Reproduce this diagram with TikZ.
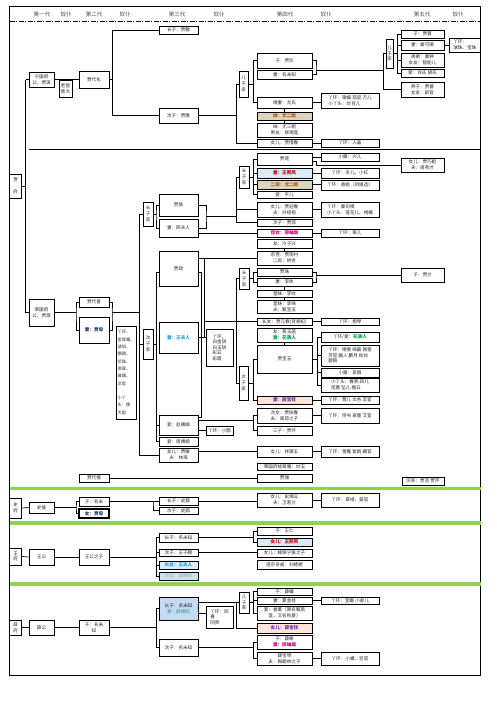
\documentclass[tikz,border=0pt]{standalone}
\usepackage{fontspec}
\setmainfont{Noto Sans CJK SC}
\XeTeXlinebreaklocale "zh"
\XeTeXlinebreakskip=0pt plus 1pt
\definecolor{gbar}{HTML}{92D050}
\definecolor{tanf}{HTML}{DDD4BE}
\definecolor{tant}{HTML}{B05A10}
\definecolor{bluef}{HTML}{DCEAF5}
\definecolor{blue2f}{HTML}{C5D9F1}
\definecolor{blue3f}{HTML}{CFE3EC}
\definecolor{redt}{HTML}{C00000}
\definecolor{cyant}{HTML}{1BA1E2}
\definecolor{greent}{HTML}{00A650}
\definecolor{peachf}{HTML}{FCE4D6}
\definecolor{purt}{HTML}{7030A0}
\definecolor{magt}{HTML}{E6007E}
\definecolor{navyt}{HTML}{1F3864}
\definecolor{tealt}{HTML}{2E9E8F}
\definecolor{palet}{HTML}{8FB0C2}
\newcommand\bxfont{\fontsize{4.6}{5.6}\selectfont}
\newcommand\vtfont{\fontsize{4.5}{5.8}\selectfont}
\newcommand\smfont{\fontsize{4.2}{7.3}\selectfont}
\newcommand\hdfont{\fontsize{5.5}{6}\selectfont}
\newcommand\mybox[7][]{%
  \pgfmathsetmacro\bX{(#3+#5)/2}%
  \pgfmathsetmacro\bY{(#4+#6)/2}%
  \pgfmathsetmacro\bW{#5-#3}%
  \pgfmathsetmacro\bH{#6-#4}%
  \node[bx,minimum width=\bW pt,minimum height=\bH pt,#1] (#2) at (\bX,\bY) {#7};}
\tikzset{
  bx/.style={draw=black,line width=0.75pt,fill=white,inner sep=0pt,align=center,font=\bxfont,text=black!85},
  vt/.style={font=\vtfont},
  hd/.style={font=\hdfont,text=black!70,inner sep=0pt},
  listbox/.style={align=left},
  tanbox/.style={fill=tanf,text=tant,font=\bxfont\bfseries},
  navybold/.style={text=navyt,font=\bxfont\bfseries},
  cyanbold/.style={text=cyant,font=\bxfont\bfseries},
  magbold/.style={text=magt,font=\bxfont\bfseries},
  redbold/.style={text=redt,font=\bxfont\bfseries},
  peachbox/.style={fill=peachf,text=purt,font=\bxfont\bfseries},
  bluebox/.style={fill=bluef},
  thinln/.style={line width=0.4pt}
}
\begin{document}
\begin{tikzpicture}[x=1pt,y=-1pt,line width=0.7pt]
\useasboundingbox (0,0) rectangle (496,702);
\fill[white] (0,0) rectangle (496,702);
% frame and header
\draw[line width=0.9pt] (9.5,6) rectangle (480.5,675);
\node[hd] (h1) at (42,14) {第一代};
\node[hd] (h2) at (66,14) {奴仆};
\node[hd] (h3) at (94,14) {第二代};
\node[hd] (h4) at (125,14) {奴仆};
\node[hd] (h5) at (177,14) {第三代};
\node[hd] (h6) at (219,14) {奴仆};
\node[hd] (h7) at (285,14) {第四代};
\node[hd] (h8) at (326,14) {奴仆};
\node[hd] (h9) at (422,14) {第五代};
\node[hd] (h10) at (458,14) {奴仆};
\draw[line width=0.8pt,dash pattern=on 5pt off 1.5pt on 1pt off 1.5pt] (9.5,21) -- (480.5,21);
% green bars
\fill[gbar] (9.5,486.5) rectangle (480.5,490);
\fill[gbar] (9.5,521) rectangle (480.5,524.5);
\fill[gbar] (9.5,582) rectangle (480.5,585.5);
\draw[line width=1.6pt] (29,149.5) -- (480.5,149.5);

% ================= Ningguo =================
\mybox[vt]{jiafu}{9.5}{174}{21.7}{198}{贾\\[6pt]府}
\mybox{ngf}{29}{72}{54}{87}{宁国府\\公，贾演}
\mybox{dh}{79}{71}{109}{88}{贾代化}
\mybox{lgj}{59}{80}{72}{97}{老管\\焦大}
\mybox{jfu}{159}{26}{198}{34}{长子：贾敷}
\mybox{jjing}{159}{108}{198}{123}{次子：贾敬}
\mybox[vt]{nza}{239}{71}{248}{97}{儿\\子\\家}
\mybox{jzhen}{257}{53}{312}{68}{子：贾珍}
\mybox{jzq}{257}{70}{312}{79}{妻：名未知}
\mybox{ysh}{257}{97}{312}{108}{继妻：尤氏}
\mybox[listbox]{ysyh}{321}{93}{379}{108}{丫环：银蝶 茄官 万儿\\小丫头：炒豆儿}
\mybox[tanbox]{yej}{257}{112}{312}{120}{妹：尤二姐}
\mybox{ysj}{257}{123}{312}{137}{妹：尤三姐\\男友：柳湘莲}
\mybox{xchun}{257}{139}{312}{147}{女儿：贾惜春}
\mybox{ruhua}{321}{139}{379}{147}{丫环：入画}
\mybox[vt]{nzb}{386}{39}{393}{68}{儿\\子\\家}
\mybox{jrong}{401}{30}{444}{38}{子：贾蓉}
\mybox{qkq}{401}{40}{444}{50}{妻：秦可卿}
\mybox{qzh}{401}{53}{444}{67}{弟弟：秦钟\\女友：智能儿}
\mybox{xush}{401}{69}{444}{77}{妾：许氏 胡氏}
\mybox{jqiang}{401}{82}{444}{97}{养子：贾蔷\\女友：龄官}
\mybox[listbox]{rzh}{449}{38}{480.5}{52}{丫环：\\瑞珠、宝珠}

\coordinate (bL1) at (25.7,79.5);
\coordinate (bL2) at (25.7,312.5);
\draw (bL1) -- (bL2);
\draw (jiafu.east) -- (jiafu.east -| bL1);
\draw (bL1) -- (ngf.west);
\draw (ngf.east) -- (dh.west);
\coordinate (b112t) at (112.3,30);
\coordinate (b112b) at (112.3,115.5);
\draw (dh.east) -- (dh.east -| b112t);
\draw (b112t) -- (b112b);
\draw (b112t) -- (jfu.west);
\draw (b112b) -- (jjing.west);
\coordinate (b236t) at (236,84);
\coordinate (b236b) at (236,143);
\draw (jjing.east) -- (jjing.east -| b236t);
\draw (b236t) -- (b236b);
\draw (b236t) -- (nza.west);
\draw (b236b) -- (xchun.west);
\coordinate (b253t) at (253,60.5);
\coordinate (b253b) at (253,102.5);
\draw (nza.east) -- (nza.east -| b253t);
\draw (b253t) -- (b253b);
\draw (b253t) -- (jzhen.west);
\draw (b253b) -- (ysh.west);
\draw[line width=1.6pt] (jzhen.south west) -- (jzhen.south east);
\coordinate (brk1) at (316,70);
\draw (jzhen.east) -| (brk1) |- (jzq.east);
\coordinate (b383t) at (383,53.5);
\coordinate (b383b) at (383,89.5);
\draw (brk1) -- (brk1 -| b383t);
\draw (b383t) -- (b383b);
\draw (b383t) -- (nzb.west);
\draw (b383b) -- (jqiang.west);
\coordinate (b397t) at (397,34);
\coordinate (b397b) at (397,73);
\draw (nzb.east) -- (nzb.east -| b397t);
\draw (b397t) -- (b397b);
\foreach \n in {jrong,qkq,qzh,xush} \draw (\n.west) -- (\n.west -| b397t);
\draw (qkq.east) -- (rzh.west);
\draw (ysh.east) -- (ysyh.west |- ysh.east);
\draw (xchun.east) -- (ruhua.west);
\draw[thinln] (ysh.south) -- (yej.north);
\draw[thinln] (yej.south) -- (ysj.north);

% ================= Rongguo =================
\mybox{rgf}{29}{299}{54}{326}{荣国府\\公，贾源}
\mybox{dsh}{79}{297}{109}{307}{贾代善}
\mybox[navybold]{jmu}{79}{317}{109}{343}{妻：贾母}
\mybox[listbox,font=\smfont]{jmyh}{116}{326}{136}{419}{丫环、\\金鸳鸯、\\琥珀、\\鹦鹉、\\珍珠、\\翡翠、\\玻璃、\\文官\\\mbox{}\\小丫\\头：傻\\大姐}
\draw (bL2) -- (rgf.west);
\coordinate (b76) at (76,312.5);
\draw (rgf.east) -- (b76);
\draw (dsh.west) -| (b76) |- (jmu.west);
\coordinate (b112r) at (112,312.5);
\draw (dsh.east) -| (b112r) |- (jmu.east);
\coordinate (b139t) at (139,214);
\coordinate (b139b) at (139,455);
\draw (b112r) -- (b112r -| b139t);
\draw (b139t) -- (b139b);

\mybox[vt]{czja}{143}{202}{153}{226}{长\\子\\家}
\mybox{jshe}{159}{194}{198}{216}{贾赦}
\mybox{xfr}{159}{219}{198}{237}{妻：邢夫人}
\draw (b139t) -- (czja.west);
\coordinate (b156a) at (156,214);
\draw (czja.east) -- (b156a);
\draw (jshe.west) -| (b156a) |- (xfr.west);
\coordinate (b206) at (206,216);
\draw (jshe.east) -| (b206) |- (xfr.east);
\coordinate (b236a) at (236,177);
\coordinate (b236c) at (236,222.5);
\draw (b206) -- (b206 -| b236a);
\draw (b236a) -- (b236c);
\mybox[vt]{czjb}{239}{166}{249}{188}{长\\子\\家}
\draw (b236a) -- (czjb.west);
\mybox{jlian}{257}{153}{312}{165}{贾琏}
\mybox[bluebox,redbold]{wxf}{257}{168}{312}{178}{妻：王熙凤}
\mybox[tanbox]{ejj}{257}{180}{312}{189}{二房：尤二姐}
\mybox{pinger}{257}{191}{312}{198}{妾：平儿}
\coordinate (b253c) at (253,159);
\coordinate (b253d) at (253,194.5);
\draw (czjb.east) -- (czjb.east -| b253c);
\draw (b253c) -- (b253d);
\foreach \n in {jlian,wxf,ejj,pinger} \draw (\n.west) -- (\n.west -| b253c);
\mybox{xinger}{321}{153}{379}{161}{小厮：兴儿}
\mybox{feng}{321}{168}{379}{178}{丫环：丰儿、小红}
\mybox{shanj}{321}{180}{379}{190}{丫环：善姐（凤姐选）}
\draw (jlian.east |- xinger.west) -- (xinger.west);
\draw (wxf.east) -- (feng.west);
\draw (ejj.east) -- (shanj.west |- ejj.east);
\mybox{qjie}{401}{158}{444}{172}{女儿：贾巧姐\\夫：周秀才}
\coordinate (b316q) at (316,165);
\draw (qjie.west) -- (b316q) |- ([yshift=-2pt]jlian.east);
\mybox{yingc}{257}{202}{312}{217}{女儿：贾迎春\\夫：孙绍祖}
\mybox[listbox]{siqi}{321}{202}{379}{217}{丫环：秦司棋\\小丫头：莲花儿、绣橘}
\draw (yingc.west) -- (yingc.west -| b236a);
\draw (yingc.east) -- (siqi.west);
\mybox{jcong}{257}{219}{312}{226}{次子：贾琮}
\draw (b236c) -- (jcong.west);
\mybox[magbold]{xyy}{257}{229}{312}{237}{侄女：邢岫烟}
\mybox{zhuaner}{321}{229}{379}{237}{丫环：篆儿}
\draw (xfr.east |- xyy.west) -- (xyy.west);
\draw (xyy.east) -- (zhuaner.west);
\mybox{lzx}{257}{239}{312}{248}{友：冷子兴}
\mybox{jyc}{257}{251}{312}{265}{宗侄：贾雨村\\二房：娇杏}
\draw[thinln] (lzx.south) -- (jyc.north);

\mybox{jzheng}{159}{251}{198}{286}{贾政}
\draw (jzheng.east |- jyc.west) -- (jyc.west);
\coordinate (b204t) at (204,258);
\coordinate (b204b) at (204,337);
\draw (b204t) -- (b204b);
\mybox[cyanbold]{wfr}{159}{322}{198}{353}{妻：王夫人}
\mybox[listbox]{wfryh}{206}{329}{233}{366}{丫环，\\白金钏\\白玉钏\\彩云\\彩霞}
\draw (wfr.east |- b204b) -- (b204b -| wfryh.west);
\mybox{zym}{159}{415}{198}{435}{妾：赵姨娘}
\mybox{xque}{206}{426}{233}{435}{丫环：小鹊}
\mybox{zhym}{159}{437}{198}{446}{妾：周姨娘}
\mybox{jmin}{159}{448}{198}{462}{女儿：贾敏\\夫：林海}
\coordinate (bzl) at (156,441.5);
\coordinate (bzr) at (201,417);
\draw ([yshift=-3.5pt]jzheng.west) -| (bzl);
\draw (bzl) -- (zhym.west);
\draw (zym.west) -- (zym.west -| bzl);
\draw ([yshift=-3.5pt]jzheng.east) -| (bzr) -- (bzr -| zym.east);
\mybox[vt]{czjc}{143}{329}{153}{359}{次\\子\\家}
\draw (czjc.west) -- (czjc.west -| b139t);
\draw (czjc.east) -- (czjc.east -| bzl);
\draw (zym.east |- xque.west) -- (xque.west);
\draw (b139b) -- (jmin.west);

\coordinate (b236d) at (236,278.5);
\coordinate (b236e) at (236,383);
\draw (b236d) -- (b236e);
\mybox[vt]{czjd}{239}{268}{249}{289}{长\\子\\家}
\draw (b236d) -- (czjd.west);
\mybox{jzhu}{257}{268}{312}{276}{贾珠}
\mybox{liwan}{257}{278}{312}{286}{妻：李纨}
\coordinate (b253e) at (253,272);
\coordinate (b253f) at (253,282);
\draw (czjd.east) -- (czjd.east -| b253e);
\draw (b253e) -- (b253f);
\draw (b253e) -- (jzhu.west);
\draw (b253f) -- (liwan.west);
\coordinate (b316l) at (316,275);
\draw (jzhu.east) -| (b316l) |- (liwan.east);
\mybox{jlan}{401}{268}{444}{282}{子：贾兰}
\draw (b316l) -- (jlan.west);
\mybox{liwen}{257}{290}{312}{297}{堂妹：李纹}
\mybox{liqi}{257}{300}{312}{313}{堂妹：李绮\\夫：甄宝玉}
\draw[thinln] (liwan.south) -- (liwen.north);
\draw[thinln] (liwen.south) -- (liqi.north);
\mybox{ychun}{257}{318}{312}{325}{长女：贾元春(贤德妃)}
\mybox{baoqin}{321}{318}{379}{325}{丫环：抱琴}
\draw (ychun.west) -- (ychun.west -| b204t);
\draw (ychun.east) -- (baoqin.west);
\mybox{jyh}{257}{328}{312}{342}{友：蒋玉菡\\\textcolor{greent}{\bfseries 妻：花袭人}}
\mybox{bYu}{257}{345}{312}{373}{贾宝玉}
\draw[thinln] (jyh.south) -- (bYu.north);
\mybox[peachbox]{bchai}{257}{396}{312}{404}{妻：薛宝钗}
\mybox[vt]{czje}{239}{366}{248}{400}{次\\子\\家}
\draw (b236e) -- (czje.west);
\coordinate (b253g) at (253,359);
\coordinate (b253h) at (253,400);
\draw (czje.east) -- (czje.east -| b253g);
\draw (b253g) -- (b253h);
\draw (b253g) -- (bYu.west);
\draw (b253h) -- (bchai.west);
\mybox{xiren}{321}{332}{379}{342}{丫环/妾：\textcolor{greent}{\bfseries 花袭人}}
\mybox[listbox]{qwen}{321}{345}{379}{366}{丫环：晴雯 绮霰 茜雪\\芳官 媚人 麝月 秋纹\\碧痕}
\mybox{mingy}{321}{368}{379}{377}{小厮：茗烟}
\mybox[listbox]{xyt}{321}{378}{379}{392}{小丫头：春燕 四儿\\佳蕙 坠儿 檀云}
\coordinate (b317t) at (317,337);
\coordinate (b317b) at (317,385);
\draw (bYu.east) -- (bYu.east -| b317t);
\draw (b317t) -- (b317b);
\foreach \n in {xiren,qwen,mingy,xyt} \draw (\n.west) -- (\n.west -| b317t);
\mybox{yinger}{321}{396}{379}{404}{丫环：莺儿 文杏 蕊官}
\draw (bchai.east) -- (yinger.west);
\mybox{tanc}{257}{408}{312}{423}{次女：贾探春\\夫：周琼之子}
\mybox{jhuan}{257}{426}{312}{435}{三子：贾环}
\mybox{shishu}{321}{408}{379}{423}{丫环：侍书 翠墨 艾官}
\coordinate (b253i) at (253,415.5);
\coordinate (b253j) at (253,430.5);
\coordinate (b253k) at (253,420);
\draw (b253i) -- (b253j);
\draw (b253i) -- (tanc.west);
\draw (b253j) -- (jhuan.west);
\draw (zym.east |- b253k) -- (b253k);
\draw (tanc.east) -- (shishu.west);
\mybox{ldy}{257}{446}{312}{457}{女儿：林黛玉}
\mybox{ldyyh}{321}{446}{379}{457}{丫环：雪雁 紫鹃 藕官}
\draw (jmin.east |- ldy.west) -- (ldy.west);
\draw (ldy.east) -- (ldyyh.west);
\mybox{miaoyu}{257}{463}{312}{470}{荣国府栊翠庵：妙玉}
\mybox{jdr}{79}{474}{109}{482}{贾代儒}
\mybox{jrui}{257}{474}{312}{482}{贾瑞}
\draw (jdr.east) -- (jrui.west);
\mybox{zqin}{402}{477}{444}{485}{宗亲：贾芸 贾芹}

% ================= Shi =================
\mybox[vt]{shif}{9.5}{498}{21.7}{518}{史\\府}
\mybox{shih}{29}{502}{54}{513}{史侯}
\mybox{zmw}{79}{497}{109}{506}{子：名未}
\mybox[navybold,line width=1.2pt]{njm}{79}{509}{109}{518}{女：贾母}
\draw (shif.east) -- (shih.west);
\coordinate (b76s) at (76,507.5);
\draw (shih.east) -- (b76s);
\draw (zmw.west) -| (b76s) |- (njm.west);
\coordinate (b153s) at (153,501.5);
\draw (zmw.east) -- (b153s);
\mybox{snai}{159}{497}{198}{505}{长子：史鼐}
\mybox{sding}{159}{507}{198}{514}{次子：史鼎}
\draw (snai.west) -| (b153s) |- (sding.west);
\mybox{sxy}{257}{493}{312}{507}{女儿：史湘云\\夫：卫若兰}
\mybox{cuilv}{321}{493}{379}{507}{丫环：翠缕、葵官}
\draw (snai.east) -- (sxy.west |- snai.east);
\draw (sxy.east) -- (cuilv.west);

% ================= Wang =================
\mybox[vt]{wangf}{9.5}{548}{21.7}{565}{王\\府}
\mybox{wgong}{29}{549}{54}{565}{王公}
\mybox{wgz}{79}{549}{109}{565}{王公之子}
\draw (wangf.east) -- (wgong.west);
\draw (wgong.east) -- (wgz.west);
\coordinate (b156w) at (156,557);
\coordinate (b156wt) at (156,537.5);
\coordinate (b156wb) at (156,576);
\draw (wgz.east) -- (b156w);
\draw (b156wt) -- (b156wb);
\mybox{wcz}{159}{533}{198}{542}{长子：名未知}
\mybox{wzt}{159}{549}{198}{556}{次子：王子腾}
\mybox[bluebox,cyanbold]{wfr2}{159}{561}{198}{569}{长女：王夫人}
\mybox[fill=blue3f,text=palet]{xym}{159}{572}{198}{580}{次女：薛姨妈}
\foreach \n in {wcz,wzt,wfr2,xym} \draw (\n.west) -- (\n.west -| b156w);
\mybox{wren}{257}{527}{312}{535}{子：王仁}
\mybox[bluebox,redbold]{wxf2}{257}{538}{312}{546}{女儿：王熙凤}
\mybox{bnh}{257}{549}{312}{557}{女儿：嫁保宁侯之子}
\mybox{lll}{257}{560}{312}{569}{连宗亲戚：刘姥姥}
\coordinate (b253w1) at (253,531);
\coordinate (b253w2) at (253,542);
\draw (wcz.east) -- (wcz.east -| b253w1);
\draw (b253w1) -- (b253w2);
\draw (b253w1) -- (wren.west);
\draw (b253w2) -- (wxf2.west);
\draw (wzt.east) -- (bnh.west |- wzt.east);

% ================= Xue =================
\mybox[vt]{xuef}{9.5}{620}{21.7}{635}{薛\\府}
\mybox{xgong}{29}{620}{54}{635}{薛公}
\mybox{xzi}{79}{620}{109}{635}{子：名未\\知}
\draw (xuef.east) -- (xgong.west);
\draw (xgong.east) -- (xzi.west);
\coordinate (b156x) at (156,627.5);
\coordinate (b156xt) at (156,608.5);
\coordinate (b156xb) at (156,647.5);
\draw (xzi.east) -- (b156x);
\draw (b156xt) -- (b156xb);
\mybox[fill=blue2f]{xcz}{159}{597}{198}{620}{长子：名未知\\\textcolor{tealt}{妻：薛姨妈}}
\mybox{xczz}{159}{639}{198}{656}{次子：名未知}
\draw (b156xt) -- (xcz.west);
\draw (b156xb) -- (xczz.west);
\mybox[listbox]{tongxi}{206}{606}{233}{628}{丫环：同\\喜\\同贵}
\coordinate (cx613) at (206,613);
\draw (xcz.east |- cx613) -- (cx613);
\coordinate (b236x1) at (236,602.5);
\coordinate (b236x2) at (236,628);
\draw (xcz.east |- b236x1) -- (b236x1);
\draw (b236x1) -- (b236x2);
\mybox[vt]{nzc}{239}{592}{249}{613}{儿\\子\\家}
\mybox[peachbox]{bc2}{257}{623}{312}{633}{女儿：薛宝钗}
\draw (b236x1) -- (nzc.west);
\draw (b236x2) -- (bc2.west);
\mybox{xpan}{257}{588}{312}{595}{子：薛蟠}
\mybox{xjg}{257}{597}{312}{604}{妻：夏金桂}
\mybox{xling}{257}{606}{312}{620}{妾：香菱（原名甄英\\莲，又名秋菱）}
\coordinate (b253x1) at (253,591.5);
\coordinate (b253x2) at (253,613);
\draw (nzc.east) -- (nzc.east -| b253x1);
\draw (b253x1) -- (b253x2);
\foreach \n in {xpan,xjg,xling} \draw (\n.west) -- (\n.west -| b253x1);
\mybox{bchan}{321}{597}{379}{604}{丫环：宝蟾 小舍儿}
\draw (xjg.east) -- (bchan.west);
\mybox{xke}{257}{635}{312}{649}{子：薛蝌\\\textcolor{magt}{\bfseries 妻：邢岫烟}}
\mybox{bqin}{257}{652}{312}{665}{薛宝琴\\夫：梅翰林之子}
\mybox{xluo}{321}{652}{379}{665}{丫环：小螺、豆官}
\coordinate (b253x3) at (253,642);
\coordinate (b253x4) at (253,658.5);
\draw (xczz.east) -- (xczz.east -| b253x3);
\draw (b253x3) -- (b253x4);
\draw (b253x3) -- (xke.west);
\draw (b253x4) -- (bqin.west);
\draw (bqin.east) -- (xluo.west);
\end{tikzpicture}
\end{document}
